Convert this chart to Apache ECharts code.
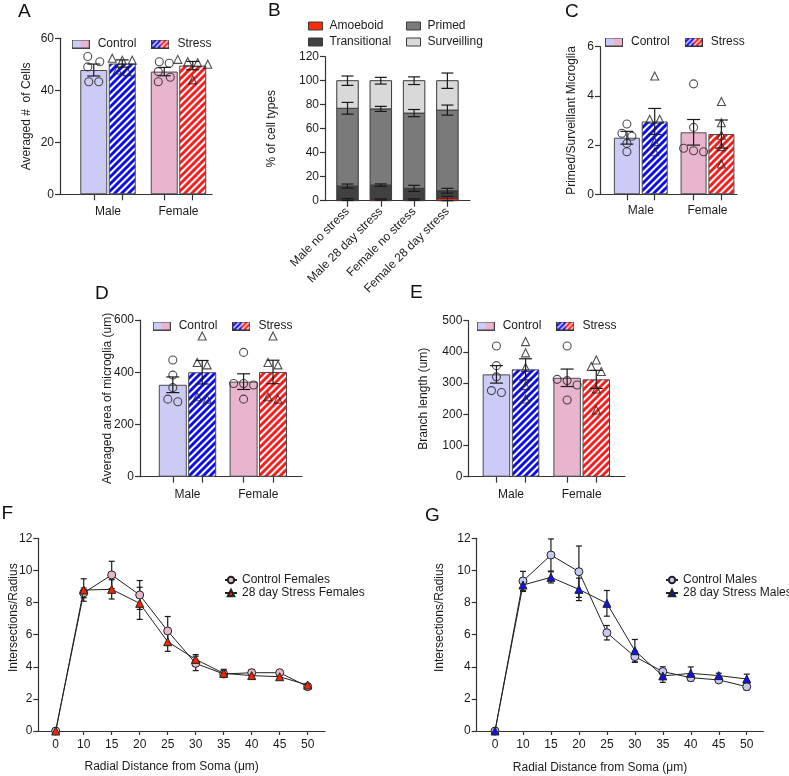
<!DOCTYPE html>
<html><head><meta charset="utf-8">
<script src="https://cdn.jsdelivr.net/npm/echarts@6.0.0/dist/echarts.min.js"></script>
<style>html,body{margin:0;padding:0;background:#fff;}#chart{width:789px;height:776px;}</style>
</head><body><div id="chart"></div>
<script>
// ================= DATA =================
const groupLabels = ['Male', 'Female'];

// Panel A
const aControlMean = [47.8, 47.2];
const aControlSem = [2.3, 1.6];
const aStressMean = [50.3, 49.5];
const aStressSem = [1.4, 1.6];
const aControlPoints = [[53, 51, 49, 43.3, 43.3], [50.4, 51, 43.3, 45, 47.2]];
const aStressPoints = [[51.6, 52.3, 51.6, 47.2, 47.8], [51.9, 51, 50.6, 44, 50]];

// Panel B
const bCategories = ['Male no stress', 'Male 28 day stress', 'Female no stress', 'Female 28 day stress'];
const bAmoeboid = [1, 1, 1, 1.8];
const bAmoeboidSem = [0.8, 0.5, 0.6, 1.8];
const bTransitional = [11.2, 12, 9.3, 6.5];
const bTransitionalSem = [1.7, 1, 2.5, 2];
const bPrimed = [64.8, 63.5, 62.7, 67.2];
const bPrimedSem = [4.9, 2.1, 3, 4.2];
const bSurveilling = [23, 23.5, 27, 24.5];
const bSurveillingSem = [3.9, 2.8, 3.2, 6.4];

// Panel C
const cControlMean = [2.3, 2.52];
const cControlSem = [0.26, 0.52];
const cStressMean = [2.96, 2.45];
const cStressSem = [0.53, 0.57];
const cControlPoints = [[2.86, 2.48, 2.36, 2.07, 1.73], [4.49, 2.72, 1.87, 1.73, 1.77]];
const cStressPoints = [[4.81, 3.05, 3.05, 2.14, 1.73], [3.77, 2.91, 2.4, 1.94, 1.23]];

// Panel D
const dControlMean = [352, 364];
const dControlSem = [30, 30];
const dStressMean = [400, 401];
const dStressSem = [45, 45];
const dControlPoints = [[447, 389, 341, 287, 297], [476, 357, 351, 357, 297]];
const dStressPoints = [[539, 428, 437, 297, 306], [539, 428, 437, 297, 306]];

// Panel E
const eControlMean = [328, 317];
const eControlSem = [28, 28];
const eStressMean = [344, 312];
const eStressSem = [34, 29];
const eControlPoints = [[419, 356, 320, 270, 276], [419, 312, 294, 308, 246]];
const eStressPoints = [[433, 397, 350, 292, 249], [374, 353, 337, 281, 214]];

// Panels F & G
const radialLabels = ['0', '10', '15', '20', '25', '30', '35', '40', '45', '50'];
const fControl = [0, 8.6, 9.72, 8.47, 6.23, 4.21, 3.55, 3.63, 3.63, 2.76];
const fControlSem = [0, 0.3, 0.85, 0.9, 0.9, 0.45, 0.2, 0.2, 0.1, 0.1];
const fStress = [0, 8.78, 8.82, 7.95, 5.56, 4.46, 3.59, 3.45, 3.38, 2.86];
const fStressSem = [0, 0.7, 0.6, 1.0, 0.6, 0.3, 0.25, 0.2, 0.1, 0.1];
const gControl = [0, 9.34, 10.96, 9.92, 6.12, 4.63, 3.7, 3.32, 3.18, 2.76];
const gControlSem = [0, 0.6, 1.0, 1.6, 0.45, 0.35, 0.3, 0.2, 0.15, 0.2];
const gStress = [0, 9.09, 9.57, 8.82, 7.95, 5.0, 3.43, 3.59, 3.45, 3.24];
const gStressSem = [0, 0.4, 0.35, 0.7, 0.8, 0.7, 0.4, 0.4, 0.15, 0.3];

// ================= STYLE / LAYOUT =================
const FONT = 'Liberation Sans, Arial, Helvetica, sans-serif';
const TXT = '#1a1a1a';
const AX = '#333';
const CTRL_COLORS = ['#cbcbf6', '#e9b4cd'];
const STRESS_COLORS = ['#0a0af5', '#ff1a1a'];

function stripeLines(ctx, w, h, s, lw) {
  ctx.lineWidth = lw;
  ctx.beginPath();
  for (let c = -s; c <= w + h + s; c += s) {
    ctx.moveTo(c - h - 3, h + 3);
    ctx.lineTo(c + 3, -3);
  }
  ctx.stroke();
}
function stripeTile(color) {
  const s = 7;
  const cv = document.createElement('canvas');
  cv.width = s; cv.height = s;
  const ctx = cv.getContext('2d');
  ctx.fillStyle = '#fff'; ctx.fillRect(0, 0, s, s);
  ctx.strokeStyle = color;
  ctx.lineWidth = 2.9;
  ctx.beginPath();
  for (let k = 0; k <= 2; k++) { ctx.moveTo(-s, k * s + s); ctx.lineTo(k * s + s, -s); }
  ctx.stroke();
  return { image: cv, repeat: 'repeat' };
}
const STRESS_PATTERNS = STRESS_COLORS.map(stripeTile);

function iconControl(w, h) {
  const cv = document.createElement('canvas'); cv.width = w; cv.height = h;
  const ctx = cv.getContext('2d');
  ctx.fillStyle = CTRL_COLORS[0]; ctx.fillRect(0, 0, w / 2, h);
  ctx.fillStyle = CTRL_COLORS[1]; ctx.fillRect(w / 2, 0, w / 2, h);
  ctx.strokeStyle = '#444'; ctx.lineWidth = 1; ctx.strokeRect(0.5, 0.5, w - 1, h - 1);
  return 'image://' + cv.toDataURL();
}
function iconStress(w, h) {
  const cv = document.createElement('canvas'); cv.width = w; cv.height = h;
  const ctx = cv.getContext('2d');
  [0, 1].forEach(i => {
    ctx.save();
    ctx.beginPath(); ctx.rect(i * w / 2, 0, w / 2, h); ctx.clip();
    ctx.fillStyle = '#fff'; ctx.fillRect(0, 0, w, h);
    ctx.strokeStyle = STRESS_COLORS[i];
    stripeLines(ctx, w, h, 5, 2.2);
    ctx.restore();
  });
  ctx.strokeStyle = '#333'; ctx.lineWidth = 1; ctx.strokeRect(0.5, 0.5, w - 1, h - 1);
  return 'image://' + cv.toDataURL();
}
const ICON_W = 18, ICON_H = 9;
const ICON_CTRL = iconControl(ICON_W, ICON_H);
const ICON_STRESS = iconStress(ICON_W, ICON_H);

function errRender(capPx) {
  return function (params, api) {
    const x = api.value(0), y = api.value(1), e = api.value(2);
    if (!e) return null;
    const p1 = api.coord([x, y + e]), p2 = api.coord([x, y - e]);
    const h = capPx / 2;
    const st = { stroke: '#1a1a1a', lineWidth: 1.2 };
    return { type: 'group', children: [
      { type: 'line', shape: { x1: p1[0], y1: p1[1], x2: p2[0], y2: p2[1] }, style: st },
      { type: 'line', shape: { x1: p1[0] - h, y1: p1[1], x2: p1[0] + h, y2: p1[1] }, style: st },
      { type: 'line', shape: { x1: p2[0] - h, y1: p2[1], x2: p2[0] + h, y2: p2[1] }, style: st }
    ]};
  };
}

// GraphPad-like horizontal spread of replicate points (pixel layout only)
function swarm(vals, centerX, pxX, pxY) {
  const thr = 6.5, step = 10;
  const order = vals.map((v, i) => i).sort((a, b) => vals[b] - vals[a]);
  const clusters = [];
  order.forEach(i => {
    const last = clusters[clusters.length - 1];
    if (last && Math.abs(vals[last[last.length - 1]] - vals[i]) * pxY < thr) last.push(i);
    else clusters.push([i]);
  });
  const out = new Array(vals.length);
  clusters.forEach(cl => {
    const n = cl.length;
    const span = (vals[cl[0]] - vals[cl[n - 1]]) * pxY;
    cl.forEach((i, j) => {
      let k;
      if (n === 1) k = 0;
      else if (span < thr) k = j - (n - 1) / 2;
      else k = (j % 2 === 0) ? -0.6 : 0.6;
      out[i] = [centerX + k * step / pxX, vals[i]];
    });
  });
  return out;
}

const option = {
  animation: false,
  backgroundColor: '#fff',
  textStyle: { fontFamily: FONT },
  grid: [], xAxis: [], yAxis: [], series: [], legend: [], graphic: []
};

function yAxisCfg(gi, max, interval, name, nameGap, extraName) {
  return {
    type: 'value', gridIndex: gi, min: 0, max, interval, position: 'left',
    name, nameLocation: 'middle', nameGap, nameRotate: 90, nameMoveOverlap: false,
    nameTextStyle: Object.assign({ fontSize: 12, color: TXT, fontFamily: FONT, lineHeight: 12 }, extraName || {}),
    axisLine: { show: true, onZero: false, lineStyle: { color: AX, width: 1.2 } },
    axisTick: { show: true, inside: false, length: 5, lineStyle: { color: AX, width: 1.2 } },
    axisLabel: { fontSize: 12, color: TXT, margin: 6, fontFamily: FONT },
    splitLine: { show: false }
  };
}

function addBarPanel(L, D) {
  const gi = option.grid.length;
  const height = L.bottom - L.top;
  option.grid.push({ left: L.axisLeft, top: L.top, width: L.axisRight - L.axisLeft, height, containLabel: false, outerBoundsMode: 'none' });
  const xmin = (L.axisLeft - L.c0) / L.spacing;
  const xmax = (L.axisRight - L.c0) / L.spacing;
  const u = (L.bw * (1 + L.gap) / 2) / L.spacing;
  const ticks = [];
  groupLabels.forEach((g, i) => { ticks.push(i - u, i + u); });
  option.xAxis.push({
    type: 'value', gridIndex: gi, min: xmin, max: xmax, position: 'bottom',
    axisLine: { show: true, onZero: false, lineStyle: { color: AX, width: 1.2 } },
    axisTick: { show: true, length: 6, customValues: ticks, lineStyle: { color: AX, width: 1.2 } },
    axisLabel: { customValues: groupLabels.map((g, i) => i), formatter: v => groupLabels[Math.round(v)] || '',
                 fontSize: 12, color: TXT, margin: L.labelMargin, fontFamily: FONT },
    splitLine: { show: false }
  });
  option.yAxis.push(yAxisCfg(gi, L.ymax, L.yint, L.name, L.nameGap));
  const common = { xAxisIndex: gi, yAxisIndex: gi };
  option.series.push(Object.assign({
    type: 'bar', name: 'Control', barWidth: L.bw, barGap: (L.gap * 100) + '%', z: 2,
    data: groupLabels.map((g, i) => ({ value: [i, D.ctrlMean[i]], itemStyle: { color: CTRL_COLORS[i], borderColor: '#4a4a4a', borderWidth: 1 } }))
  }, common));
  option.series.push(Object.assign({
    type: 'bar', name: 'Stress', barWidth: L.bw, barGap: (L.gap * 100) + '%', z: 2,
    data: groupLabels.map((g, i) => ({ value: [i, D.stressMean[i]], itemStyle: { color: STRESS_PATTERNS[i], borderColor: '#4a4a4a', borderWidth: 1 } }))
  }, common));
  option.series.push(Object.assign({
    type: 'custom', name: 'err', z: 3, clip: false, renderItem: errRender(13), encode: { x: 0, y: 1 },
    data: groupLabels.flatMap((g, i) => [[i - u, D.ctrlMean[i], D.ctrlSem[i]], [i + u, D.stressMean[i], D.stressSem[i]]])
  }, common));
  const pxY = height / L.ymax;
  option.series.push(Object.assign({
    type: 'scatter', name: 'ctrl pts', z: 4, symbol: 'circle', symbolSize: 8,
    itemStyle: { color: 'rgba(0,0,0,0)', borderColor: '#222', borderWidth: 1.1 },
    data: groupLabels.flatMap((g, i) => swarm(D.ctrlPts[i], i - u, L.spacing, pxY))
  }, common));
  option.series.push(Object.assign({
    type: 'scatter', name: 'stress pts', z: 4, symbol: 'triangle', symbolSize: 8,
    itemStyle: { color: 'rgba(0,0,0,0)', borderColor: '#222', borderWidth: 1.1 },
    data: groupLabels.flatMap((g, i) => swarm(D.stressPts[i], i + u, L.spacing, pxY))
  }, common));
  option.legend.push({
    left: L.legendLeft, top: L.legendTop, orient: 'horizontal', padding: 0, itemGap: 15,
    itemWidth: ICON_W, itemHeight: ICON_H, selectedMode: false,
    textStyle: { fontSize: 12, color: TXT, fontFamily: FONT, lineHeight: 14, padding: [0, 0, 0, 3] },
    data: [{ name: 'Control', icon: ICON_CTRL }, { name: 'Stress', icon: ICON_STRESS }]
  });
}

addBarPanel(
  { axisLeft: 60, axisRight: 212, top: 38.3, bottom: 194.3, c0: 108, spacing: 70.5, bw: 27, gap: 0.055,
    ymax: 60, yint: 20, name: 'Averaged #  of Cells', nameGap: 27, labelMargin: 11, legendLeft: 71.7, legendTop: 37 },
  { ctrlMean: aControlMean, ctrlSem: aControlSem, stressMean: aStressMean, stressSem: aStressSem, ctrlPts: aControlPoints, stressPts: aStressPoints });
addBarPanel(
  { axisLeft: 600, axisRight: 737, top: 46.7, bottom: 194.3, c0: 640.8, spacing: 66.7, bw: 26, gap: 0.07,
    ymax: 6, yint: 2, name: 'Primed/Surveillant Microglia', nameGap: 22, labelMargin: 10, legendLeft: 605, legendTop: 35 },
  { ctrlMean: cControlMean, ctrlSem: cControlSem, stressMean: cStressMean, stressSem: cStressSem, ctrlPts: cControlPoints, stressPts: cStressPoints });
addBarPanel(
  { axisLeft: 140, axisRight: 302, top: 320, bottom: 476.7, c0: 187.5, spacing: 70.8, bw: 28, gap: 0.05,
    ymax: 600, yint: 200, name: 'Averaged area of microglia (um)', nameGap: 26, labelMargin: 12, legendLeft: 152.7, legendTop: 319 },
  { ctrlMean: dControlMean, ctrlSem: dControlSem, stressMean: dStressMean, stressSem: dStressSem, ctrlPts: dControlPoints, stressPts: dStressPoints });
addBarPanel(
  { axisLeft: 468.3, axisRight: 625, top: 320.7, bottom: 476.7, c0: 511, spacing: 70.7, bw: 27.5, gap: 0.06,
    ymax: 500, yint: 100, name: 'Branch length (um)', nameGap: 39, labelMargin: 12, legendLeft: 476.7, legendTop: 319 },
  { ctrlMean: eControlMean, ctrlSem: eControlSem, stressMean: eStressMean, stressSem: eStressSem, ctrlPts: eControlPoints, stressPts: eStressPoints });

// ---------- Panel B (stacked) ----------
(function () {
  const gi = option.grid.length;
  const L = { axisLeft: 325, axisRight: 470, top: 56.7, bottom: 200.7, c0: 347.5, spacing: 33.3, bw: 21.5 };
  option.grid.push({ left: L.axisLeft, top: L.top, width: L.axisRight - L.axisLeft, height: L.bottom - L.top, containLabel: false, outerBoundsMode: 'none' });
  const idx = bCategories.map((c, i) => i);
  option.xAxis.push({
    type: 'value', gridIndex: gi, min: (L.axisLeft - L.c0) / L.spacing, max: (L.axisRight - L.c0) / L.spacing, position: 'bottom',
    axisLine: { show: true, onZero: false, lineStyle: { color: AX, width: 1.2 } },
    axisTick: { show: true, length: 6, customValues: idx, lineStyle: { color: AX, width: 1.2 } },
    axisLabel: { customValues: idx, formatter: v => bCategories[Math.round(v)] || '', rotate: 45,
                 fontSize: 12, color: TXT, margin: 9, fontFamily: FONT },
    splitLine: { show: false }
  });
  option.yAxis.push(yAxisCfg(gi, 120, 20, '% of cell types', 47));
  const layers = [
    { name: 'Amoeboid', vals: bAmoeboid, sem: bAmoeboidSem, color: '#ff2a0a' },
    { name: 'Transitional', vals: bTransitional, sem: bTransitionalSem, color: '#414141' },
    { name: 'Primed', vals: bPrimed, sem: bPrimedSem, color: '#7a7a7a' },
    { name: 'Surveilling', vals: bSurveilling, sem: bSurveillingSem, color: '#d9d9d9' }
  ];
  const cum = idx.map(() => 0);
  const errData = [];
  layers.forEach(l => {
    const data = idx.map(i => [i, cum[i], cum[i] + l.vals[i]]);
    idx.forEach(i => { cum[i] += l.vals[i]; errData.push([i, cum[i], l.sem[i]]); });
    option.series.push({
      type: 'custom', name: l.name, xAxisIndex: gi, yAxisIndex: gi, z: 2, clip: false,
      itemStyle: { color: l.color, borderColor: '#3a3a3a', borderWidth: 1 },
      encode: { x: 0, y: [1, 2] },
      renderItem: function (params, api) {
        const x = api.value(0), y0 = api.value(1), y1 = api.value(2);
        const p0 = api.coord([x, y0]), p1 = api.coord([x, y1]);
        return { type: 'rect', shape: { x: p0[0] - L.bw / 2, y: p1[1], width: L.bw, height: p0[1] - p1[1] },
                 style: { fill: l.color, stroke: '#3a3a3a', lineWidth: 1 } };
      },
      data
    });
  });
  option.series.push({ type: 'custom', name: 'errB', xAxisIndex: gi, yAxisIndex: gi, z: 3, clip: false,
    renderItem: errRender(12), encode: { x: 0, y: 1 }, data: errData });
  const legText = { fontSize: 12, color: TXT, fontFamily: FONT, lineHeight: 14, padding: [0, 0, 0, 2] };
  const legItem = n => ({ name: n, icon: 'rect', itemStyle: { color: layers.find(l => l.name === n).color, borderColor: '#3a3a3a', borderWidth: 1 } });
  option.legend.push({ left: 308, top: 19, orient: 'vertical', padding: 0, itemGap: 2, itemWidth: 14, itemHeight: 8,
    selectedMode: false, textStyle: legText, data: ['Amoeboid', 'Transitional'].map(legItem) });
  option.legend.push({ left: 406, top: 19, orient: 'vertical', padding: 0, itemGap: 2, itemWidth: 14, itemHeight: 8,
    selectedMode: false, textStyle: legText, data: ['Primed', 'Surveilling'].map(legItem) });
})();

// ---------- Panels F & G (Sholl) ----------
function addLinePanel(L, D) {
  const gi = option.grid.length;
  option.grid.push({ left: L.axisLeft, top: L.top, width: L.axisRight - L.axisLeft, height: L.bottom - L.top, containLabel: false, outerBoundsMode: 'none' });
  const idx = radialLabels.map((c, i) => i);
  option.xAxis.push({
    type: 'value', gridIndex: gi, min: (L.axisLeft - L.c0) / L.spacing, max: (L.axisRight - L.c0) / L.spacing, position: 'bottom',
    name: 'Radial Distance from Soma (μm)', nameLocation: 'middle', nameGap: L.xNameGap, nameMoveOverlap: false,
    nameTextStyle: { fontSize: 12, color: TXT, fontFamily: FONT, lineHeight: 12, padding: [0, L.xNameShift, 0, 0] },
    axisLine: { show: true, onZero: false, lineStyle: { color: AX, width: 1.2 } },
    axisTick: { show: true, length: 4, customValues: idx, lineStyle: { color: AX, width: 1.2 } },
    axisLabel: { customValues: idx, formatter: v => radialLabels[Math.round(v)] || '', fontSize: 12, color: TXT, margin: 8, fontFamily: FONT },
    splitLine: { show: false }
  });
  option.yAxis.push(yAxisCfg(gi, 12, 2, 'Intersections/Radius', L.yNameGap, { padding: [0, 0, 0, 34] }));
  const common = { xAxisIndex: gi, yAxisIndex: gi };
  option.series.push(Object.assign({ type: 'custom', name: 'errL', z: 1, clip: false, renderItem: errRender(6), encode: { x: 0, y: 1 },
    data: idx.map(i => [i, D.ctrl[i], D.ctrlSem[i]]).concat(idx.map(i => [i, D.stress[i], D.stressSem[i]])) }, common));
  option.series.push(Object.assign({ type: 'line', name: D.ctrlName, z: 3, symbol: 'circle', symbolSize: 8, clip: false,
    itemStyle: { color: D.ctrlColor, borderColor: '#222', borderWidth: 1 }, lineStyle: { color: '#222', width: 1 },
    data: idx.map(i => [i, D.ctrl[i]]) }, common));
  option.series.push(Object.assign({ type: 'line', name: D.stressName, z: 4, symbol: 'triangle', symbolSize: 8, clip: false,
    itemStyle: { color: D.stressColor, borderColor: '#222', borderWidth: 1 }, lineStyle: { color: '#222', width: 1 },
    data: idx.map(i => [i, D.stress[i]]) }, common));
  option.legend.push({ left: L.legendLeft, top: 574, orient: 'vertical', padding: 0, itemGap: 1, itemWidth: 12, itemHeight: 8,
    selectedMode: false, textStyle: { fontSize: 12, color: TXT, fontFamily: FONT, lineHeight: 12 },
    data: [D.ctrlName, D.stressName] });
}
addLinePanel({ axisLeft: 38.3, axisRight: 325, top: 538.3, bottom: 731, c0: 55.7, spacing: 28, xNameGap: 29.7, xNameShift: 20, yNameGap: 19, legendLeft: 224 },
  { ctrl: fControl, ctrlSem: fControlSem, stress: fStress, stressSem: fStressSem, ctrlName: 'Control Females', stressName: '28 day Stress Females', ctrlColor: '#e8b6ce', stressColor: '#ff2200' });
addLinePanel({ axisLeft: 476.7, axisRight: 763.3, top: 538.3, bottom: 731, c0: 495, spacing: 27.97, xNameGap: 31, xNameShift: 40, yNameGap: 30.7, legendLeft: 665 },
  { ctrl: gControl, ctrlSem: gControlSem, stress: gStress, stressSem: gStressSem, ctrlName: 'Control Males', stressName: '28 day Stress Males', ctrlColor: '#c8c8f2', stressColor: '#1010f0' });

// ---------- panel letters ----------
[['A', 18, 2], ['B', 268, 1.5], ['C', 565, 2], ['D', 95, 284], ['E', 410, 283], ['F', 1.5, 504], ['G', 425, 506.5]].forEach(t => {
  option.graphic.push({ type: 'text', left: t[1], top: t[2], style: { text: t[0], font: '19px ' + FONT, fill: '#111' } });
});

const chart = echarts.init(document.getElementById('chart'), null, { renderer: 'canvas' });
chart.setOption(option);
</script>
</body></html>
